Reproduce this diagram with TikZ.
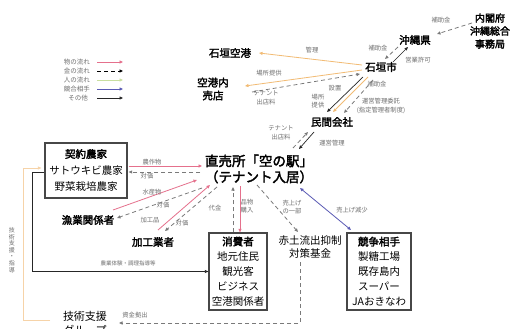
\documentclass[tikz,border=0pt]{standalone}
\usepackage{fontspec}
\setmainfont{Noto Sans CJK JP}[AutoFakeBold=2.5]
\usetikzlibrary{arrows.meta,calc}
\definecolor{pinkline}{HTML}{E5708C}
\definecolor{orangeline}{HTML}{F2BB74}
\definecolor{peachline}{HTML}{F6D3A8}
\definecolor{greenline}{HTML}{C9DFA0}
\definecolor{blueline}{HTML}{5B5BB5}
\definecolor{dashgray}{HTML}{7A7A7A}
\definecolor{labelgray}{HTML}{6E6E6E}
\definecolor{boxgray}{HTML}{474747}
\begin{document}
\begin{tikzpicture}[x=1pt,y=-1pt,
  tip/.style={-{Triangle[length=3.5pt,width=3pt]}},
  thing/.style={tip,draw=pinkline,line width=0.8pt},
  money/.style={tip,draw=dashgray,line width=0.8pt,dash pattern=on 4pt off 3pt},
  people/.style={tip,draw=greenline,line width=0.8pt},
  rival/.style={tip,draw=blueline,line width=0.8pt},
  other/.style={tip,draw=black!85,line width=0.7pt},
  orng/.style={tip,draw=orangeline,line width=0.8pt},
  peach/.style={tip,draw=peachline,line width=0.9pt},
  lbl/.style={font=\fontsize{6.3}{8.5}\selectfont,text=labelgray,align=center,inner sep=0pt},
  actor/.style={font=\fontsize{10.5}{13}\selectfont\bfseries,align=center,inner sep=0pt},
  boxnode/.style={draw=boxgray,line width=1.2pt,align=center,inner sep=0pt,font=\fontsize{10.5}{15}\selectfont},
  legtext/.style={font=\fontsize{6.5}{8}\selectfont,text=labelgray,anchor=east,inner sep=0pt}]
\useasboundingbox[fill=white] (0,0) rectangle (520,329);

% legend
\node[legtext] (lg1) at (90,62) {物の流れ};
\node[legtext] (lg2) at (90,71) {金の流れ};
\node[legtext] (lg3) at (90,80) {人の流れ};
\node[legtext] (lg4) at (90,89) {競合相手};
\node[legtext] (lg5) at (88,98) {その他};
\draw[thing] ($(lg1.east)+(7,0)$) -- ($(lg1.east)+(33,0)$);
\draw[money,draw=black] ($(lg2.east)+(7,0)$) -- ($(lg2.east)+(33,0)$);
\draw[people] ($(lg3.east)+(7,0)$) -- ($(lg3.east)+(33,0)$);
\draw[rival] ($(lg4.east)+(7,0)$) -- ($(lg4.east)+(33,0)$);
\draw[other] ($(lg5.east)+(9,0)$) -- ($(lg5.east)+(35,0)$);

% actors
\node[actor,font=\fontsize{10}{13}\selectfont\bfseries] (naikaku) at (490,31) {内閣府\\沖縄総合\\事務局};
\node[actor] (okinawa) at (415,40) {沖縄県};
\node[actor] (ishigaki) at (381,67) {石垣市};
\node[actor] (airport) at (230,53) {石垣空港};
\node[actor] (shop) at (213,89) {空港内\\売店};
\node[actor] (minkan) at (332,122) {民間会社};
\node[actor,font=\fontsize{13.5}{16}\selectfont\bfseries] (station) at (259,169) {直売所「空の駅」\\（テナント入居）};
\node[boxnode,minimum width=82pt,minimum height=55pt,font=\fontsize{10.5}{16.5}\selectfont] (farm) at (86,170.5) {{\bfseries 契約農家}\\サトウキビ農家\\野菜栽培農家};
\node[actor] (fish) at (88,220) {漁業関係者};
\node[actor] (proc) at (153,242) {加工業者};
\node[boxnode,minimum width=58pt,minimum height=77pt] (cons) at (238,271.5) {{\bfseries 消費者}\\地元住民\\観光客\\ビジネス\\空港関係者};
\node[actor,font=\fontsize{10.5}{12.5}\selectfont] (akatsuchi) at (310,247) {赤土流出抑制\\対策基金};
\node[boxnode,minimum width=64pt,minimum height=77pt] (comp) at (379,271.5) {{\bfseries 競争相手}\\製糖工場\\既存島内\\スーパー\\JAおきなわ};
\node[actor,font=\fontsize{11}{14}\selectfont] (tech) at (85,323) {技術支援\\グループ};

% top right
\draw[money] ($(naikaku)+(-18,-8)$) -- ($(okinawa)+(22,-6)$);
\node[lbl] (l1) at (441,20) {補助金};
\draw[money] ($(okinawa)+(-17,7)$) -- ($(ishigaki)+(4,-8)$);
\node[lbl] (l2) at (378,48) {補助金};
\draw[other] ($(ishigaki)+(12,-5)$) -- ($(okinawa)+(-7,7)$);
\node[lbl] (l3) at (418,60) {営業許可};

% ishigaki city to airport and shop
\draw[orng] ($(ishigaki)+(-19,-2)$) -- ($(airport)+(29,0)$);
\node[lbl] (l4) at (312,50) {管理};
\draw[orng] ($(ishigaki)+(-19,3)$) -- ($(shop)+(32,-3)$);
\node[lbl] (l5) at (269,73) {場所提供};
\draw[money] ($(shop)+(39,3)$) -- ($(ishigaki)+(-21,7)$);
\node[lbl] (l6) at (266,98) {テナント\\出店料};

% ishigaki city to company
\draw[other] ($(ishigaki)+(-18,10)$) -- ($(minkan)+(-5,-10)$);
\draw[orng] ($(ishigaki)+(-13,10)$) -- ($(minkan)+(1,-10)$);
\draw[money] ($(ishigaki)+(-8,13)$) -- ($(minkan)+(12,-9)$);
\node[lbl] (l7) at (335,88) {設置};
\node[lbl] (l8) at (318,101) {場所\\提供};
\node[lbl] (l9) at (377,84) {補助金};
\node[lbl] (l10) at (381,106) {運営管理委託\\(指定管理者制度)};

% company and station
\draw[money] ($(station)+(34,-21)$) -- ($(minkan)+(-24,10)$);
\draw[other] ($(minkan)+(-18,10)$) -- ($(station)+(40,-20)$);
\node[lbl] (l11) at (281,133) {テナント\\出店料};
\node[lbl] (l12) at (332,143) {運営管理};

% competitors
\draw[rival,{Triangle[length=3.5pt,width=3pt]}-{Triangle[length=3.5pt,width=3pt]}] ($(comp)+(-28,-41.5)$) -- ($(station)+(41,19)$);
\node[lbl] (l13) at (352,210) {売上げ減少};

% fund
\draw[money] ($(station)+(-2,16)$) -- ($(akatsuchi)+(-12,-15)$);
\node[lbl] (l14) at (292,207) {売上げ\\の一部};
\draw[money] ($(akatsuchi)+(-10,15)$) |- ($(tech)+(34,0)$);
\node[lbl] (l15) at (135,315) {資金拠出};

% consumers
\draw[thing] ($(station)+(-19,17)$) -- ($(cons.north)+(2,0)$);
\draw[money] ($(cons.north)+(-5,0)$) -- ($(station)+(-26,18)$);
\node[lbl] (l16) at (247,206) {品物\\購入};
\node[lbl] (l17) at (215,208) {代金};

% producers
\draw[thing] ($(farm.east)+(1,-4.5)$) -- ($(station)+(-57,-3)$);
\draw[money] ($(station)+(-59,3)$) -- ($(farm.east)+(1,1.5)$);
\node[lbl] (l18) at (152,162) {農作物};
\node[lbl] (l19) at (147,176.5) {対価};
\draw[thing] ($(fish)+(25,-10)$) -- ($(station)+(-62,11)$);
\draw[money] ($(station)+(-57,19)$) -- ($(fish)+(29,-2)$);
\node[lbl] (l20) at (152,192) {水産物};
\node[lbl] (l21) at (163,205) {対価};
\draw[thing] ($(proc)+(5,-12)$) -- ($(station)+(-49,16)$);
\draw[money] ($(station)+(-42,18)$) -- ($(proc)+(12,-11)$);
\node[lbl] (l22) at (150,220) {加工品};
\node[lbl] (l23) at (182,223) {対価};

% left loops
\draw[peach] ($(tech)+(-35,-3)$) -| ($(farm.west)+(-21,-2.5)$) -- ($(farm.west)+(-3,-2.5)$);
\node[lbl,font=\fontsize{6}{6.6}\selectfont] (l24) at (12,250) {技\\術\\支\\援\\・\\指\\導};
\draw[other] ($(farm.west)+(0,1.5)$) -- ($(farm.west)+(-12,1.5)$) |- (cons.west);
\node[lbl,font=\fontsize{5.5}{7}\selectfont] (l25) at (128,263) {農業体験・調理指導等};
\end{tikzpicture}
\end{document}
